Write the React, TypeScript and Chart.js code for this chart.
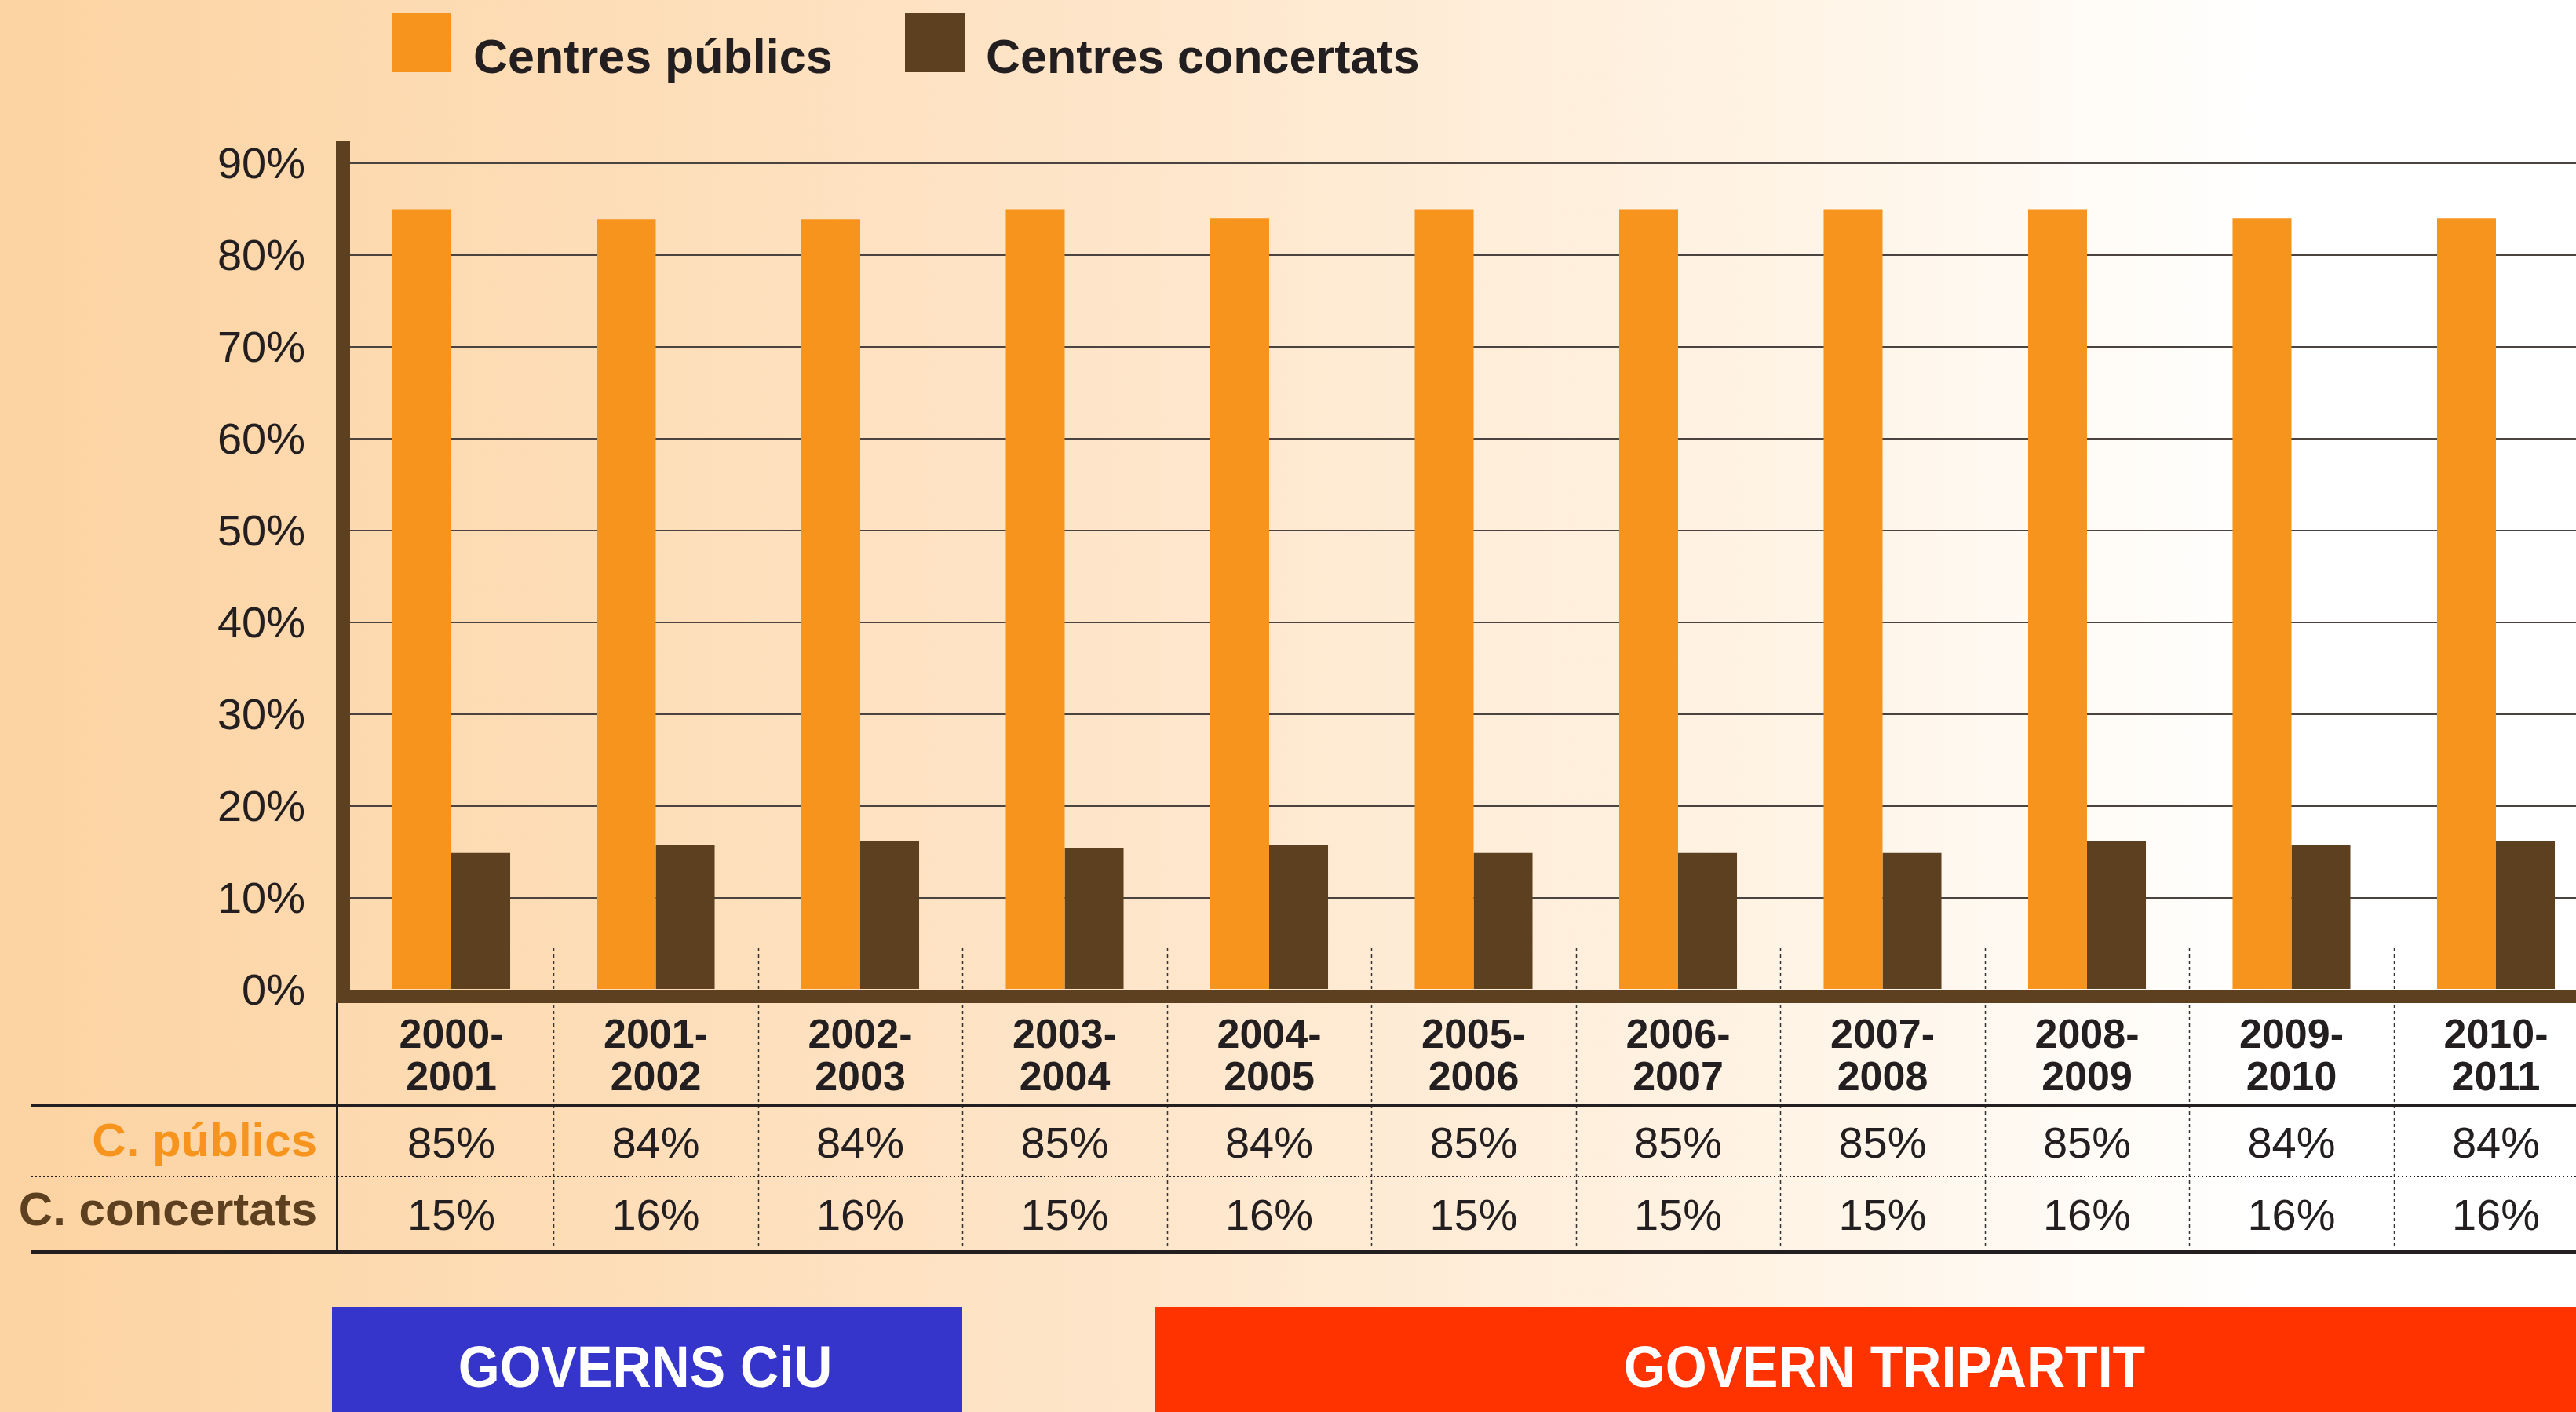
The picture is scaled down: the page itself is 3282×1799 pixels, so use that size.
import React, { useEffect, useRef } from "react";
import { Chart, registerables } from "chart.js";

Chart.register(...registerables);

// ---------- data ----------
const categories = [
  "2000-2001", "2001-2002", "2002-2003", "2003-2004", "2004-2005", "2005-2006",
  "2006-2007", "2007-2008", "2008-2009", "2009-2010", "2010-2011",
];
const seriesNames = ["Centres públics", "Centres concertats"];
// bar heights
const publicValues = [85.0, 83.9, 83.9, 85.0, 84.0, 85.0, 85.0, 85.0, 85.0, 84.0, 84.0];
const concertValues = [14.9, 15.8, 16.2, 15.4, 15.8, 14.9, 14.9, 14.9, 16.2, 15.8, 16.2];
// rounded values printed in the table
const publicTable = [85, 84, 84, 85, 84, 85, 85, 85, 85, 84, 84];
const concertTable = [15, 16, 16, 15, 16, 15, 15, 15, 16, 16, 16];
const rowLabels = ["C. públics", "C. concertats"];
const periodLabels = ["GOVERNS CiU", "GOVERN TRIPARTIT"];
const yMin = 0;
const yMax = 90;
const yStep = 10;

// ---------- style ----------
const PAGE_W = 3282;
const W = 3320;
const H = 1799;
const ORANGE = "#f7941e";
const BROWN = "#5c4020";
const TEXT = "#231f20";
const GRID = "#4a4340";
const BLUE = "#3535cc";
const RED = "#ff3300";
const FONT = "'Liberation Sans', Arial, Helvetica, sans-serif";

const bgPlugin = {
  id: "bg",
  beforeDraw(chart: any) {
    const ctx = chart.ctx;
    ctx.save();
    const g = ctx.createLinearGradient(0, 0, PAGE_W, 0);
    g.addColorStop(0, "#fcd3a2");
    g.addColorStop(0.15, "#fddab0");
    g.addColorStop(0.45, "#fee6cb");
    g.addColorStop(0.7, "#fff4e6");
    g.addColorStop(0.88, "#ffffff");
    g.addColorStop(1, "#ffffff");
    ctx.fillStyle = g;
    ctx.fillRect(0, 0, W, H);
    ctx.restore();
  },
};

const overlayPlugin = {
  id: "overlay",
  afterDraw(chart: any) {
    const ctx = chart.ctx;
    const xs = chart.scales.x;
    const n = categories.length;
    ctx.save();

    // dotted column separators
    ctx.strokeStyle = "#333";
    ctx.lineWidth = 1.5;
    ctx.setLineDash([4, 4]);
    for (let i = 1; i <= n; i++) {
      const x = i < n
        ? (xs.getPixelForValue(i - 1) + xs.getPixelForValue(i)) / 2
        : xs.getPixelForValue(n - 1) + (xs.getPixelForValue(n - 1) - xs.getPixelForValue(n - 2)) / 2;
      ctx.beginPath();
      ctx.moveTo(Math.round(x) + 0.5, 1208);
      ctx.lineTo(Math.round(x) + 0.5, 1590);
      ctx.stroke();
    }
    ctx.setLineDash([]);

    // brown baseline band and y axis bar
    ctx.fillStyle = BROWN;
    ctx.fillRect(428, 1261, W - 428, 17);
    ctx.fillRect(428, 180, 18, 1098);

    // table vertical solid line
    ctx.strokeStyle = TEXT;
    ctx.lineWidth = 2;
    ctx.beginPath();
    ctx.moveTo(429, 1278);
    ctx.lineTo(429, 1592);
    ctx.stroke();

    // table horizontal lines
    ctx.fillStyle = TEXT;
    ctx.fillRect(40, 1406, W - 40, 4);
    ctx.fillRect(40, 1593, W - 40, 5);
    ctx.strokeStyle = TEXT;
    ctx.lineWidth = 2;
    ctx.setLineDash([2, 3]);
    ctx.beginPath();
    ctx.moveTo(40, 1499);
    ctx.lineTo(W, 1499);
    ctx.stroke();
    ctx.setLineDash([]);

    // table values
    ctx.font = `56px ${FONT}`;
    ctx.fillStyle = TEXT;
    ctx.textAlign = "center";
    ctx.textBaseline = "alphabetic";
    for (let i = 0; i < n; i++) {
      const x = xs.getPixelForValue(i);
      ctx.fillText(`${publicTable[i]}%`, x, 1475);
      ctx.fillText(`${concertTable[i]}%`, x, 1567);
    }

    // row labels
    ctx.font = `bold 60px ${FONT}`;
    ctx.textAlign = "right";
    ctx.fillStyle = ORANGE;
    ctx.fillText(rowLabels[0], 404, 1473);
    ctx.fillStyle = BROWN;
    ctx.fillText(rowLabels[1], 404, 1561);

    // legend
    ctx.fillStyle = ORANGE;
    ctx.fillRect(500, 17, 75, 75);
    ctx.fillStyle = BROWN;
    ctx.fillRect(1153, 17, 76, 75);
    ctx.font = `bold 61px ${FONT}`;
    ctx.textAlign = "left";
    ctx.fillStyle = TEXT;
    ctx.fillText(seriesNames[0], 603, 93);
    ctx.fillText(seriesNames[1], 1256, 93);

    // period boxes
    ctx.fillStyle = BLUE;
    ctx.fillRect(423, 1665, 803, H - 1665);
    ctx.fillStyle = RED;
    ctx.fillRect(1471, 1665, PAGE_W - 1471, H - 1665);
    ctx.fillStyle = "#ffffff";
    ctx.font = `bold 74px ${FONT}`;
    ctx.textAlign = "center";
    const drawScaled = (txt: string, cx: number, by: number) => {
      ctx.save();
      ctx.translate(cx, by);
      ctx.scale(0.92, 1);
      ctx.fillText(txt, 0, 0);
      ctx.restore();
    };
    drawScaled(periodLabels[0], 822, 1767);
    drawScaled(periodLabels[1], 2401, 1767);

    ctx.restore();
  },
};

export default function App() {
  const canvasRef = useRef<HTMLCanvasElement | null>(null);

  useEffect(() => {
    document.body.style.margin = "0";
    const canvas = canvasRef.current;
    if (!canvas) return;
    const labels = categories.map((c) => {
      const [a, b] = c.split("-");
      return [`${a}-`, b];
    });
    const chart = new Chart(canvas, {
      type: "bar",
      data: {
        labels,
        datasets: [
          {
            label: seriesNames[0],
            data: publicValues,
            backgroundColor: ORANGE,
            borderWidth: 0,
            categoryPercentage: 0.576,
            barPercentage: 1,
          },
          {
            label: seriesNames[1],
            data: concertValues,
            backgroundColor: BROWN,
            borderWidth: 0,
            categoryPercentage: 0.576,
            barPercentage: 1,
          },
        ],
      },
      options: {
        responsive: false,
        animation: false,
        devicePixelRatio: 1,
        layout: { padding: { left: 0, top: 208, right: W - 3310.25, bottom: 0 } },
        plugins: { legend: { display: false }, tooltip: { enabled: false } },
        scales: {
          x: {
            grid: { display: false, drawTicks: false },
            border: { display: false },
            ticks: {
              autoSkip: false,
              maxRotation: 0,
              minRotation: 0,
              padding: 33,
              color: TEXT,
              font: { family: FONT, size: 52, weight: "bold", lineHeight: 1.04 },
            },
            afterFit: (s: any) => {
              s.height = H - 1261;
            },
          },
          y: {
            min: yMin,
            max: yMax,
            grid: {
              color: (c: any) => (c.tick && c.tick.value === 0 ? "rgba(0,0,0,0)" : GRID),
              lineWidth: 2,
              drawTicks: false,
            },
            border: { display: false },
            ticks: {
              stepSize: yStep,
              padding: 55.75,
              color: TEXT,
              font: { family: FONT, size: 56, lineHeight: "8px" },
              // empty first line nudges the label a few pixels down onto its grid line
              callback: (v: any) => ["", `${v}%`],
            },
            afterFit: (s: any) => {
              s.width = 444.75;
            },
          },
        },
      },
      plugins: [bgPlugin, overlayPlugin],
    } as any);
    return () => chart.destroy();
  }, []);

  return (
    <div
      style={{
        position: "fixed",
        left: 0,
        top: 0,
        width: PAGE_W,
        height: H,
        overflow: "hidden",
        background: "#fff",
      }}
    >
      <canvas
        ref={canvasRef}
        width={W}
        height={H}
        style={{ display: "block", width: W, height: H }}
      />
    </div>
  );
}
